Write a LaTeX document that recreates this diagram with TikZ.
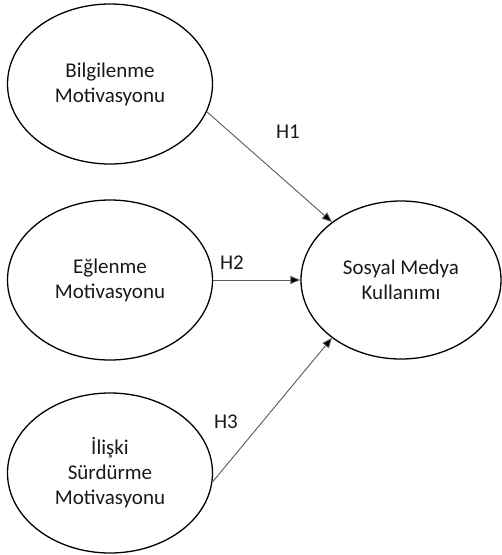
\documentclass[tikz,border=0pt]{standalone}
\usepackage{fontspec}
\setmainfont{Carlito}
\usetikzlibrary{arrows.meta,shapes.geometric}
\begin{document}
\begin{tikzpicture}[x=1pt,y=-1pt,
  oval/.style={draw=black,line width=1.3pt,ellipse,minimum width=205pt,minimum height=160pt,inner sep=0pt,align=center,font=\fontsize{21}{25}\selectfont,text=black!90},
  conn/.style={draw=black!65,line width=0.9pt,-{Triangle[length=10pt,width=8pt,fill=black]}},
  lab/.style={font=\fontsize{21}{25}\selectfont,text=black!90,inner sep=0pt}]
\useasboundingbox (0,0) rectangle (502,555);
\node[oval] (b) at (110,84) {Bilgilenme\\Motivasyonu};
\node[oval] (e) at (110,280) {Eğlenme\\Motivasyonu};
\node[oval] (i) at (110,473) {İlişki\\Sürdürme\\Motivasyonu};
\node[oval,minimum width=200pt,minimum height=158pt] (s) at (401,280) {Sosyal Medya\\Kullanımı};
\draw[conn] (b.-16) -- (s.140);
\draw[conn] (e.east) -- (s.west);
\draw[conn] (i.-5) -- (s.-140);
\node[lab] (h1) at (288,132) {H1};
\node[lab] (h2) at (232,263) {H2};
\node[lab] (h3) at (226,422) {H3};
\end{tikzpicture}
\end{document}
